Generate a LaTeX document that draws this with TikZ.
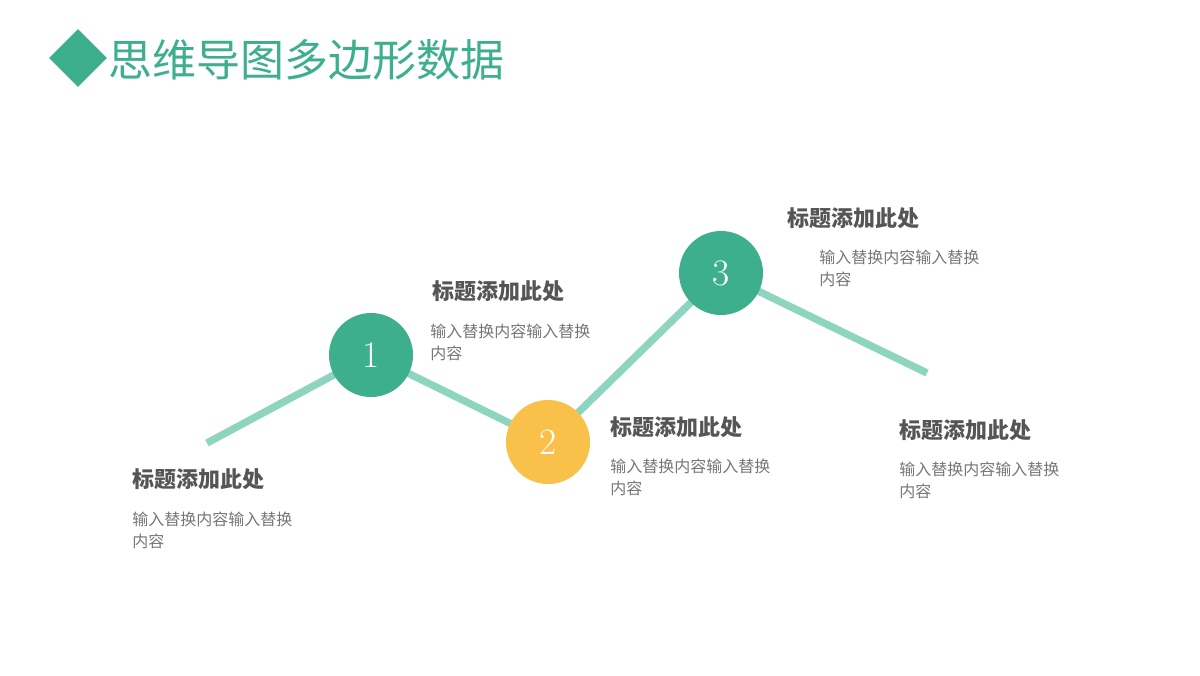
\documentclass[tikz,border=0pt]{standalone}
\usepackage{fontspec}
\usetikzlibrary{shapes.geometric}
\newfontfamily\cjk{Noto Sans CJK SC}
\definecolor{teal}{HTML}{3DAF8D}
\definecolor{lteal}{HTML}{8ED5BF}
\definecolor{yel}{HTML}{F9C04A}
\definecolor{tgray}{HTML}{555555}
\definecolor{bgray}{HTML}{777777}
\begin{document}
\begin{tikzpicture}[x=0.75pt,y=-0.75pt,
  circ/.style={circle,minimum size=84*0.75pt,inner sep=0,text=white,font=\fontsize{28}{28}\selectfont},
  ttl/.style={anchor=west,inner sep=0,text=tgray,font=\cjk\fontsize{16.5}{18}\selectfont\bfseries},
  body/.style={anchor=north west,inner sep=0,text=bgray,align=left,font=\cjk\fontsize{12}{16}\selectfont},
  ln/.style={draw=lteal,line width=5.5pt}]
\useasboundingbox (0,0) rectangle (1200,675);
\fill[white] (0,0) rectangle (1200,675);
\node[diamond,fill=teal,minimum size=58*0.75pt,inner sep=0] (d) at (78,58) {};
\node[anchor=west,inner sep=0,text=teal,font=\cjk\fontsize{33}{36}\selectfont] (t) at (108,60) {思维导图多边形数据};
\coordinate (s) at (207,443);
\coordinate (e) at (927,373);
\coordinate (p1) at (371,355);
\coordinate (p2) at (548,442);
\coordinate (p3) at (721,273);
\draw[ln] (s) -- (p1) -- (p2) -- (p3) -- (e);
\node[circ,fill=teal] (c1) at (p1) {1};
\node[circ,fill=yel] (c2) at (p2) {2};
\node[circ,fill=teal] (c3) at (p3) {3};
\node[ttl] (l1) at (132,479) {标题添加此处};
\node[body] (b1) at (132,512) {输入替换内容输入替换\\内容};
\node[ttl] (l2) at (432,291) {标题添加此处};
\node[body] (b2) at (430,324) {输入替换内容输入替换\\内容};
\node[ttl] (l3) at (610,427) {标题添加此处};
\node[body] (b3) at (610,459) {输入替换内容输入替换\\内容};
\node[ttl] (l4) at (787,218) {标题添加此处};
\node[body] (b4) at (819,250) {输入替换内容输入替换\\内容};
\node[ttl] (l5) at (899,430) {标题添加此处};
\node[body] (b5) at (899,462) {输入替换内容输入替换\\内容};
\end{tikzpicture}
\end{document}
